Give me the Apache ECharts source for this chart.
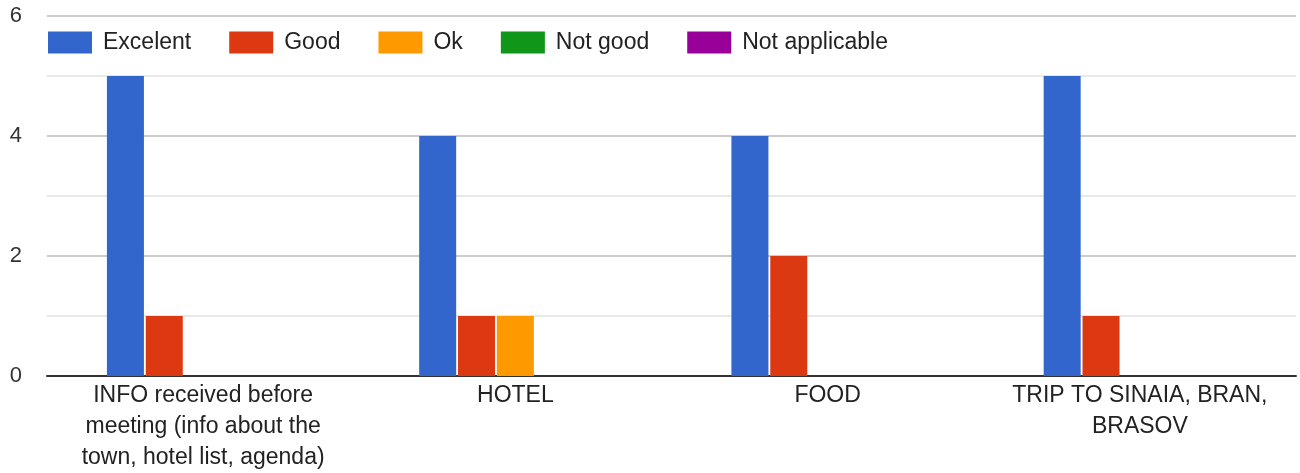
<!DOCTYPE html>
<html><head><meta charset="utf-8">
<script src="https://cdn.jsdelivr.net/npm/echarts@6/dist/echarts.min.js"></script>
<style>html,body{margin:0;padding:0;background:#fff}#c{width:1300px;height:473px}</style>
</head><body><div id="c"></div>
<script>
const categories = ["INFO received before\nmeeting (info about the\ntown, hotel list, agenda)", "HOTEL", "FOOD", "TRIP TO SINAIA, BRAN,\nBRASOV"];
const seriesNames = ["Excelent", "Good", "Ok", "Not good", "Not applicable"];
const excelent = [5, 4, 4, 5];
const good = [1, 1, 2, 1];
const ok = [0, 1, 0, 0];
const notGood = [0, 0, 0, 0];
const notApplicable = [0, 0, 0, 0];
const colors = ["#3366cc", "#dc3912", "#ff9900", "#109618", "#990099"];
const yTicks = [0, 2, 4, 6];

const values = [excelent, good, ok, notGood, notApplicable];
const font = "Liberation Sans, Arial, sans-serif";
const chart = echarts.init(document.getElementById('c'));
chart.setOption({
  animation: false,
  color: colors,
  textStyle: { fontFamily: font },
  legend: {
    left: 43, top: 26,
    itemWidth: 44, itemHeight: 22, itemGap: 38,
    icon: 'rect',
    textStyle: { fontSize: 23, color: '#222', fontFamily: font, padding: [0, 0, 0, 6] },
    data: seriesNames
  },
  grid: { left: 47, right: 4, top: 16, bottom: 94, containLabel: false },
  xAxis: {
    type: 'category',
    data: categories,
    axisLine: { lineStyle: { color: '#333', width: 2 } },
    axisTick: { show: false },
    axisLabel: { fontSize: 23, color: '#222', lineHeight: 31, margin: 4, interval: 0, fontFamily: font }
  },
  yAxis: {
    type: 'value', min: 0, max: 6, interval: 1,
    axisLine: { show: false }, axisTick: { show: false },
    axisLabel: {
      fontSize: 22, color: '#333', margin: 25, fontFamily: font,
      formatter: v => yTicks.includes(v) ? String(v) : ''
    },
    splitLine: { lineStyle: { color: ['#cccccc', '#e8e8e8'], width: 2 } }
  },
  series: seriesNames.map((n, i) => ({
    name: n, type: 'bar', data: values[i],
    barWidth: 37, barGap: '5%',
    itemStyle: { color: colors[i] }
  }))
});
</script></body></html>
